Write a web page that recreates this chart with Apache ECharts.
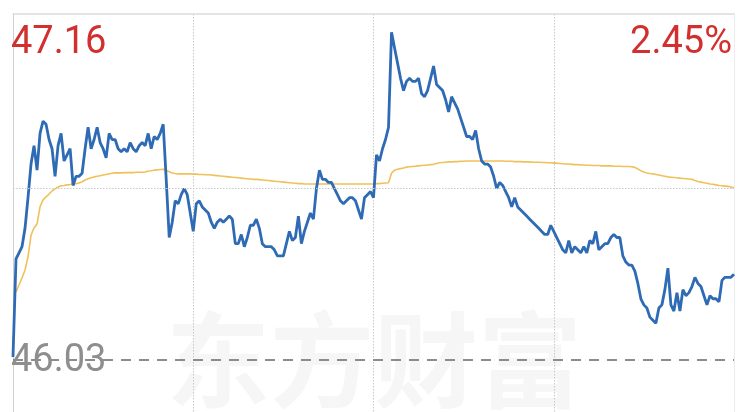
<!DOCTYPE html>
<html>
<head>
<meta charset="utf-8">
<script src="https://cdn.jsdelivr.net/npm/echarts@6/dist/echarts.min.js"></script>
<style>
html,body{margin:0;padding:0;background:#fff;}
#chart{width:741px;height:412px;}
</style>
</head>
<body>
<div id="chart"></div>
<script>
// ---- data ----
const prevClose = 46.03;
const axisTop = 47.16;
const topPctLabel = '2.45%';
const watermarkText = '东方财富';

const times = [];
(function(){
  function push(h0, m0, h1, m1){
    let h = h0, m = m0;
    while (h < h1 || (h === h1 && m <= m1)) {
      times.push((h < 10 ? '0' : '') + h + ':' + (m < 10 ? '0' : '') + m);
      m++; if (m === 60) { m = 0; h++; }
    }
  }
  push(9, 30, 11, 30);
  push(13, 1, 15, 0);
})();

const price = [
  46.04,46.36,46.38,46.40,46.46,46.56,46.67,46.73,46.65,46.77,
  46.81,46.80,46.75,46.72,46.63,46.73,46.77,46.68,46.70,46.72,
  46.60,46.63,46.63,46.64,46.72,46.79,46.72,46.75,46.79,46.74,
  46.72,46.69,46.77,46.75,46.75,46.72,46.71,46.72,46.71,46.74,
  46.72,46.71,46.73,46.74,46.73,46.77,46.72,46.76,46.75,46.77,
  46.80,46.62,46.43,46.48,46.55,46.54,46.57,46.59,46.57,46.51,
  46.45,46.54,46.55,46.53,46.52,46.51,46.48,46.46,46.48,46.49,
  46.48,46.49,46.50,46.49,46.41,46.41,46.44,46.40,46.43,46.47,
  46.47,46.49,46.46,46.41,46.40,46.40,46.40,46.39,46.37,46.37,
  46.37,46.41,46.45,46.42,46.43,46.50,46.41,46.45,46.48,46.51,
  46.49,46.59,46.65,46.62,46.62,46.61,46.61,46.59,46.57,46.55,
  46.54,46.55,46.56,46.56,46.55,46.52,46.49,46.56,46.57,46.58,
  46.56,46.70,46.68,46.72,46.75,46.79,47.10,47.05,47.00,46.95,
  46.91,46.94,46.95,46.94,46.94,46.95,46.90,46.89,46.91,46.95,
  46.99,46.93,46.92,46.91,46.88,46.84,46.89,46.87,46.85,46.82,
  46.79,46.76,46.76,46.75,46.78,46.72,46.68,46.67,46.67,46.66,
  46.63,46.59,46.61,46.60,46.58,46.56,46.53,46.56,46.53,46.52,
  46.51,46.50,46.49,46.48,46.47,46.46,46.45,46.44,46.44,46.47,
  46.45,46.43,46.41,46.39,46.38,46.42,46.38,46.40,46.39,46.38,
  46.40,46.38,46.42,46.41,46.45,46.39,46.40,46.41,46.41,46.43,
  46.44,46.43,46.43,46.37,46.35,46.34,46.34,46.32,46.28,46.23,
  46.21,46.20,46.17,46.16,46.15,46.20,46.21,46.26,46.33,46.21,
  46.19,46.25,46.19,46.26,46.24,46.25,46.27,46.30,46.28,46.27,
  46.24,46.21,46.24,46.23,46.23,46.22,46.29,46.30,46.30,46.30,
  46.31
];

const avgPrice = [
  null,46.252,46.275,46.298,46.324,46.367,46.438,46.461,46.474,46.530,
  46.553,46.563,46.572,46.582,46.589,46.595,46.599,46.600,46.602,46.603,
  46.605,46.606,46.608,46.612,46.618,46.622,46.625,46.628,46.630,46.632,
  46.634,46.636,46.638,46.640,46.641,46.641,46.641,46.642,46.642,46.642,
  46.642,46.643,46.643,46.643,46.644,46.647,46.648,46.650,46.651,46.652,
  46.653,46.649,46.645,46.641,46.639,46.638,46.638,46.638,46.638,46.638,
  46.637,46.637,46.636,46.636,46.635,46.635,46.634,46.633,46.632,46.631,
  46.630,46.629,46.628,46.627,46.626,46.625,46.624,46.623,46.622,46.621,
  46.620,46.620,46.619,46.618,46.617,46.616,46.615,46.614,46.613,46.612,
  46.611,46.610,46.609,46.608,46.607,46.606,46.606,46.605,46.605,46.605,
  46.605,46.605,46.605,46.605,46.605,46.605,46.605,46.605,46.605,46.605,
  46.605,46.605,46.605,46.605,46.605,46.605,46.605,46.605,46.605,46.605,
  46.605,46.606,46.606,46.607,46.608,46.609,46.640,46.650,46.653,46.655,
  46.657,46.660,46.661,46.662,46.663,46.664,46.665,46.666,46.667,46.668,
  46.669,46.672,46.674,46.675,46.676,46.677,46.677,46.678,46.678,46.679,
  46.679,46.680,46.680,46.680,46.680,46.680,46.680,46.680,46.680,46.680,
  46.680,46.680,46.680,46.680,46.679,46.679,46.679,46.678,46.678,46.678,
  46.677,46.677,46.677,46.676,46.676,46.676,46.675,46.675,46.674,46.674,
  46.673,46.673,46.672,46.671,46.670,46.670,46.669,46.668,46.668,46.667,
  46.667,46.666,46.666,46.665,46.665,46.665,46.664,46.664,46.664,46.664,
  46.663,46.663,46.663,46.662,46.662,46.662,46.661,46.659,46.654,46.648,
  46.644,46.641,46.639,46.638,46.636,46.634,46.632,46.630,46.628,46.627,
  46.626,46.625,46.624,46.623,46.622,46.621,46.620,46.616,46.613,46.611,
  46.609,46.607,46.605,46.604,46.602,46.600,46.599,46.598,46.597,46.595,
  46.592
];

// ---- chart ----
const axisBottom = +(prevClose - (axisTop - prevClose)).toFixed(2);
const midUpper = +((axisTop + prevClose) / 2).toFixed(4);
const chart = echarts.init(document.getElementById('chart'), null, {renderer: 'canvas'});
const labelFont = 'Roboto, "Noto Sans", sans-serif';

chart.setOption({
  animation: false,
  backgroundColor: '#ffffff',
  grid: {left: 13, top: 14, width: 721, height: 692, containLabel: false, outerBoundsMode: 'none'},
  xAxis: {
    type: 'category',
    data: times,
    boundaryGap: false,
    position: 'top',
    axisLine: {show: true, lineStyle: {color: '#dcdcdc', width: 1.5}},
    axisTick: {show: false},
    axisLabel: {show: false},
    splitLine: {
      show: true,
      interval: function (i) { return i === 60 || i === 120 || i === 180; },
      lineStyle: {color: '#c8c8c8', type: [1.5, 1.5], width: 1}
    }
  },
  yAxis: [{
    type: 'value',
    min: axisBottom,
    max: axisTop,
    position: 'left',
    axisLine: {show: true, lineStyle: {color: '#cfcfcf', width: 1}},
    axisTick: {show: false},
    axisLabel: {show: false},
    splitLine: {show: false}
  }, {
    type: 'value',
    min: axisBottom,
    max: axisTop,
    position: 'right',
    axisLine: {show: true, lineStyle: {color: '#ececec', width: 1}},
    axisTick: {show: false},
    axisLabel: {show: false},
    splitLine: {show: false}
  }],
  series: [{
    name: 'avg',
    type: 'line',
    data: avgPrice,
    showSymbol: false,
    symbol: 'none',
    lineStyle: {color: '#f0c05a', width: 1.6},
    z: 3,
    markLine: {
      silent: true,
      symbol: 'none',
      label: {show: false},
      data: [
        {yAxis: midUpper, lineStyle: {color: '#c8c8c8', type: [1.5, 1.5], width: 1}}
      ]
    }
  }, {
    name: 'price',
    type: 'line',
    data: price,
    showSymbol: false,
    symbol: 'none',
    lineStyle: {color: '#2e6bb4', width: 2.8},
    z: 4,
    markLine: {
      silent: true,
      symbol: 'none',
      label: {show: false},
      data: [
        {yAxis: prevClose, lineStyle: {color: '#8c8c8c', type: [10, 8], width: 2}}
      ]
    }
  }],
  graphic: [
    {type: 'text', z: -1, left: 166, top: 308, silent: true,
     style: {text: watermarkText, font: 'bold 104px "Noto Sans CJK SC"', fill: '#f6f6f6'}},
    {type: 'text', z: 100, left: 11, top: 24, silent: true,
     style: {text: axisTop.toFixed(2), font: '38px ' + labelFont, fill: '#d2302e'}},
    {type: 'text', z: 100, right: 9, top: 24, silent: true,
     style: {text: topPctLabel, font: '38px ' + labelFont, fill: '#d2302e'}},
    {type: 'text', z: 100, left: 11, top: 342, silent: true,
     style: {text: prevClose.toFixed(2), font: '38px ' + labelFont, fill: '#8e8e8e'}}
  ]
});
</script>
</body>
</html>
